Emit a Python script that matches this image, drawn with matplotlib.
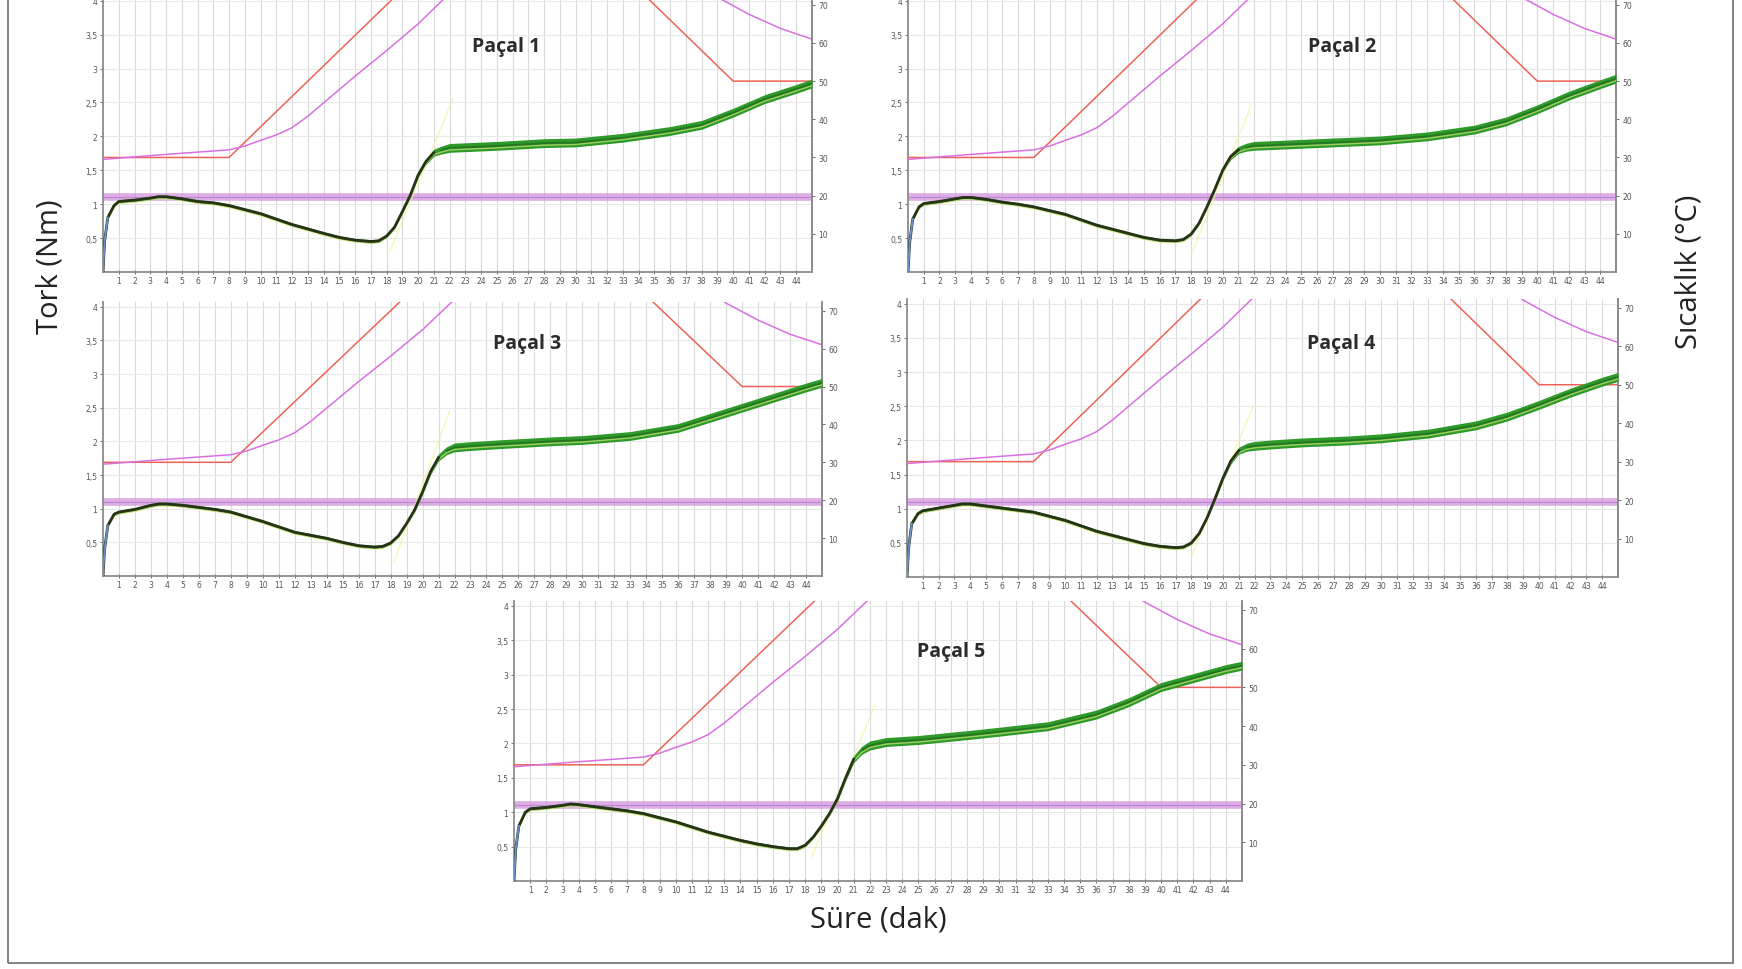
import numpy as np
import matplotlib
matplotlib.use('Agg')
import matplotlib.pyplot as plt
from matplotlib.patches import Rectangle

# --- data ---
minutes = list(range(1, 45))
torque_ticks = [0.5, 1, 1.5, 2, 2.5, 3, 3.5, 4]
torque_labels = ['0,5', '1', '1,5', '2', '2,5', '3', '3,5', '4']
temp_ticks = [10, 20, 30, 40, 50, 60, 70]

# set temperature profile (red) and dough temperature (pink)
set_time = [0, 8, 23, 30, 40, 45]
set_temp = [30, 30, 90, 90, 50, 50]
dough_time = [0, 4, 8, 9, 10, 11, 12, 13, 14, 16, 18, 20, 22, 25, 28, 31, 34, 37, 39, 41, 43, 45]
dough_temp = [29.5, 30.8, 32, 33, 34.5, 35.9, 37.8, 40.8, 44.3, 51.3, 58, 65, 73, 81, 86, 88, 85, 78, 72, 67.5, 63.8, 61]

target_torque = 1.1

torque_time = [0, 0.1, 0.3, 0.7, 1, 2, 3, 3.5, 4, 5, 6, 7, 8, 10, 12, 14, 15, 16, 17, 17.5,
               18, 18.5, 19, 19.5, 20, 20.5, 21, 21.5, 22, 23, 25, 28, 30, 33, 36, 38, 40, 42, 44, 45]
torque_p1 = [0, 0.45, 0.8, 0.98, 1.04, 1.06, 1.09, 1.11, 1.11, 1.08, 1.04, 1.02, 0.98, 0.86, 0.70, 0.57, 0.51, 0.47, 0.45, 0.46,
             0.53, 0.66, 0.89, 1.13, 1.43, 1.63, 1.76, 1.80, 1.83, 1.84, 1.86, 1.90, 1.91, 1.98, 2.08, 2.17, 2.35, 2.55, 2.70, 2.78]
torque_p2 = [0, 0.42, 0.78, 0.96, 1.01, 1.04, 1.08, 1.10, 1.10, 1.07, 1.03, 1.00, 0.96, 0.85, 0.69, 0.57, 0.51, 0.47, 0.46, 0.48,
             0.56, 0.72, 0.96, 1.22, 1.50, 1.70, 1.80, 1.84, 1.86, 1.87, 1.89, 1.92, 1.94, 2.00, 2.10, 2.22, 2.40, 2.60, 2.77, 2.85]
torque_p3 = [0, 0.40, 0.75, 0.92, 0.95, 0.99, 1.05, 1.07, 1.07, 1.05, 1.02, 0.99, 0.95, 0.81, 0.65, 0.56, 0.50, 0.45, 0.43, 0.44,
             0.49, 0.60, 0.78, 0.98, 1.25, 1.55, 1.76, 1.86, 1.91, 1.93, 1.96, 2.00, 2.02, 2.08, 2.20, 2.35, 2.50, 2.65, 2.80, 2.87]
torque_p4 = [0, 0.42, 0.78, 0.93, 0.97, 1.01, 1.05, 1.07, 1.07, 1.04, 1.01, 0.98, 0.95, 0.83, 0.67, 0.55, 0.49, 0.45, 0.43, 0.44,
             0.50, 0.64, 0.87, 1.15, 1.45, 1.70, 1.85, 1.90, 1.92, 1.94, 1.97, 2.00, 2.03, 2.10, 2.22, 2.35, 2.52, 2.70, 2.86, 2.93]
torque_p5 = [0, 0.45, 0.80, 1.00, 1.05, 1.07, 1.10, 1.12, 1.11, 1.08, 1.05, 1.02, 0.98, 0.86, 0.71, 0.59, 0.54, 0.50, 0.47, 0.47,
             0.52, 0.64, 0.80, 0.98, 1.20, 1.50, 1.77, 1.90, 1.97, 2.02, 2.05, 2.12, 2.17, 2.25, 2.42, 2.60, 2.82, 2.95, 3.08, 3.13]

# yellow slope line through the torque rise (start, end)
slope_p1 = [(18.2, 0.30), (22.2, 2.55)]
slope_p2 = [(18.0, 0.25), (21.8, 2.45)]
slope_p3 = [(18.2, 0.20), (21.7, 2.45)]
slope_p4 = [(18.0, 0.30), (21.9, 2.50)]
slope_p5 = [(18.4, 0.35), (22.3, 2.55)]

titles = ['Paçal 1', 'Paçal 2', 'Paçal 3', 'Paçal 4', 'Paçal 5']

W, H = 1742, 970
fig = plt.figure(figsize=(W / 100, H / 100), dpi=100)

# pixel boxes: left, top, right, bottom
boxes = [(103, -3, 812, 273), (908, -3, 1616, 273),
         (103, 303, 822, 577), (907, 300, 1618, 578),
         (514, 602, 1242, 882)]
title_pos = [(0.568, 0.82), (0.613, 0.82), (0.59, 0.85), (0.61, 0.84), (0.60, 0.82)]
torques = [torque_p1, torque_p2, torque_p3, torque_p4, torque_p5]
slopes = [slope_p1, slope_p2, slope_p3, slope_p4, slope_p5]

spine_c = '#8c8c8c'
tick_c = '#555555'

for box, title, tq, slope, tpos in zip(boxes, titles, torques, slopes, title_pos):
    l, t, r, b = box
    ax = fig.add_axes([l / W, 1 - b / H, (r - l) / W, (b - t) / H])
    ax.set_xlim(0, 45)
    ax.set_ylim(0, 4.07)
    for x in minutes:
        ax.axvline(x, color='#d9d9d9', lw=0.8, zorder=0)
    for y in torque_ticks:
        ax.axhline(y, color='#e8e8e8', lw=0.8, zorder=0)

    ax.axhline(target_torque, color='#d492de', lw=5.5, alpha=0.75, zorder=1)
    ax.axhline(target_torque, color='#a070c0', lw=0.8, alpha=0.6, zorder=1)

    ax.set_xticks(minutes)
    ax.set_xticklabels([str(m) for m in minutes])
    ax.set_yticks(torque_ticks)
    ax.set_yticklabels(torque_labels)
    ax.tick_params(axis='both', labelsize=5.5, colors=tick_c, length=2.5, width=0.6, pad=1.5)
    ax.tick_params(axis='x', direction='inout', length=3)
    for s in ['left', 'bottom', 'right']:
        ax.spines[s].set_color(spine_c)
        ax.spines[s].set_linewidth(1.3)
    ax.spines['top'].set_visible(False)

    ax2 = ax.twinx()
    ax2.set_ylim(0, 72.3)
    ax2.set_yticks(temp_ticks)
    ax2.tick_params(axis='y', labelsize=5.5, colors=tick_c, length=2.5, width=0.6, pad=2)
    ax2.spines['top'].set_visible(False)
    ax2.spines['right'].set_color(spine_c)
    ax2.spines['right'].set_linewidth(1.3)
    for s in ['left', 'bottom']:
        ax2.spines[s].set_visible(False)
    ax2.plot(set_time, set_temp, color='#ec6258', lw=1.1, zorder=2)
    ax2.plot(dough_time, dough_temp, color='#d870e2', lw=1.1, zorder=2)

    # torque curve drawn on top of the temperature axes
    ax3 = fig.add_axes(ax.get_position(), sharex=ax)
    ax3.set_ylim(0, 4.07)
    ax3.axis('off')
    tt = np.array(torque_time)
    yy = np.array(tq)
    w = 0.025 + 0.04 * np.clip((tt - 19) / 3, 0, 1)
    ax3.plot(tt, yy - 0.03, color='#f0f08a', lw=1.0, alpha=0.6)
    sx = [p[0] for p in slope]
    sy = [p[1] for p in slope]
    ax3.plot(sx, sy, color='#f2f29a', lw=1.1, alpha=0.6)
    ax3.fill_between(tt, yy - w, yy + w, color='#2e9a2a', lw=0)
    early = tt <= 21
    ax3.plot(tt[early], yy[early], color='#263318', lw=2.0)
    ax3.plot(tt[~early], yy[~early], color='#1d5a1a', lw=1.3, alpha=0.55)
    ax3.plot(tt[:3], yy[:3], color='#6a8fc8', lw=1.4)

    ax3.text(tpos[0], tpos[1], title, transform=ax.transAxes, ha='center', va='center',
             fontsize=14, fontweight='bold', color='#2b2b2b', family=['Open Sans', 'DejaVu Sans'])

fig.text(50 / W, 1 - 267 / H, 'Tork (Nm)', rotation=90, ha='center', va='center',
         fontsize=21, color='#222222', family=['Open Sans', 'DejaVu Sans'])
fig.text(1689 / W, 1 - 272 / H, 'Sıcaklık (°C)', rotation=90, ha='center', va='center',
         fontsize=21, color='#222222', family=['Open Sans', 'DejaVu Sans'])
fig.text(878 / W, 1 - 920 / H, 'Süre (dak)', ha='center', va='center',
         fontsize=21, color='#222222', family=['Open Sans', 'DejaVu Sans'])

frame = Rectangle((8 / W, 1 - 964 / H), (1733 - 8) / W, 1.0, transform=fig.transFigure,
                  fill=False, edgecolor='#7a7a7a', lw=1.3, clip_on=False)
fig.add_artist(frame)

fig.savefig('out.png', dpi=100)
